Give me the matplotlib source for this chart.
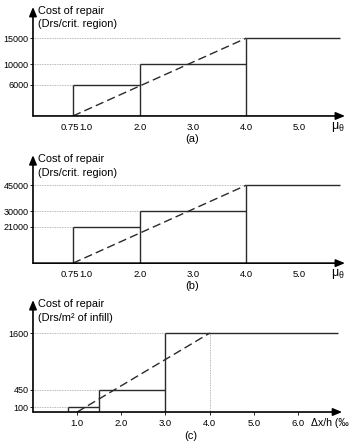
import numpy as np
import matplotlib.pyplot as plt
from matplotlib.transforms import ScaledTranslation

plt.rcParams['font.family'] = ['Liberation Sans', 'DejaVu Sans']

# panel (a)
a_edges = [0.75, 2.0, 4.0, 5.75]
a_costs = [6000, 10000, 15000]
a_dash = ([0.75, 4.0], [0, 15000])
a_xticks = [0.75, 1.0, 2.0, 3.0, 4.0, 5.0]
a_xticklabels = ['0.75', '1.0', '2.0', '3.0', '4.0', '5.0']

# panel (b)
b_edges = [0.75, 2.0, 4.0, 5.75]
b_costs = [21000, 30000, 45000]
b_dash = ([0.75, 4.0], [0, 45000])
b_xticks = [0.75, 1.0, 2.0, 3.0, 4.0, 5.0]
b_xticklabels = ['0.75', '1.0', '2.0', '3.0', '4.0', '5.0']

# panel (c)
c_edges = [0.8, 1.5, 3.0, 6.9]
c_costs = [100, 450, 1600]
c_dash = ([1.0, 4.0], [0, 1600])
c_xticks = [1.0, 2.0, 3.0, 4.0, 5.0, 6.0]
c_xticklabels = ['1.0', '2.0', '3.0', '4.0', '5.0', '6.0']

LINE = '#2a2a2a'
GRID = '#a0a0a0'


def plot_panel(fig, ax, edges, costs, dash, xticks, xticklabels, xmax, ymax,
               ylabel, xlabel, tag, xtick_marks=False, dash_drop=False,
               xlabel_x=0.955, xlabel_size=9):
    ax.set_xlim(0, xmax)
    ax.set_ylim(0, ymax)
    for s in ax.spines.values():
        s.set_visible(False)

    # axes with arrows
    arrow = dict(arrowstyle='-|>,head_length=0.6,head_width=0.25',
                 color='black', lw=1.2, shrinkA=0, shrinkB=0, mutation_scale=9)
    ax.annotate('', xy=(xmax, 0), xytext=(0, 0), arrowprops=arrow,
                annotation_clip=False)
    ax.annotate('', xy=(0, ymax), xytext=(0, 0), arrowprops=arrow,
                annotation_clip=False)

    # dotted guide lines to the y axis
    for x0, c in zip(edges, costs):
        ax.hlines(c, 0, x0, colors=GRID, linestyles=(0, (1, 1)), lw=0.6)
    if dash_drop:
        ax.vlines(dash[0][1], 0, dash[1][1], colors=GRID,
                  linestyles=(0, (1, 1)), lw=0.6)

    # step cost function
    for i, c in enumerate(costs):
        ax.vlines(edges[i], 0, c, colors=LINE, lw=1.0)
        ax.hlines(c, edges[i], edges[i + 1], colors=LINE, lw=1.0)

    # linear approximation
    ax.plot(dash[0], dash[1], color=LINE, lw=1.0, dashes=(6, 3))

    ax.set_yticks(costs)
    ax.set_yticklabels([str(c) for c in costs], fontsize=6.5)
    ax.set_xticks(xticks)
    ax.set_xticklabels(xticklabels, fontsize=6.8)
    ax.tick_params(axis='y', length=2, width=0.6, pad=1)
    ax.tick_params(axis='x', length=2 if xtick_marks else 0, width=0.6,
                   pad=3 if xtick_marks else 5)
    for lab in ax.get_xticklabels():
        if lab.get_text() == '0.75':
            lab.set_transform(lab.get_transform() +
                              ScaledTranslation(-3 / 100, 0, fig.dpi_scale_trans))

    ax.text(0.015, 1.01, ylabel, transform=ax.transAxes, fontsize=7.9,
            va='top', ha='left', linespacing=1.45)
    ax.text(xlabel_x, -0.1, xlabel, transform=ax.transAxes, fontsize=xlabel_size,
            va='center', ha='left')
    ax.text(0.51, -0.21, tag, transform=ax.transAxes, fontsize=8,
            va='center', ha='center')


fig = plt.figure(figsize=(3.57, 4.46), dpi=100)
ax_a = fig.add_axes([0.0924, 0.740, 0.874, 0.2444])
ax_b = fig.add_axes([0.0924, 0.410, 0.874, 0.242])
ax_c = fig.add_axes([0.0924, 0.0762, 0.866, 0.251])

plot_panel(fig, ax_a, a_edges, a_costs, a_dash, a_xticks, a_xticklabels, 5.85, 21000,
           'Cost of repair\n(Drs/crit. region)', r'$\mathregular{\mu_\theta}$', '(a)')
plot_panel(fig, ax_b, b_edges, b_costs, b_dash, b_xticks, b_xticklabels, 5.85, 62300,
           'Cost of repair\n(Drs/crit. region)', r'$\mathregular{\mu_\theta}$', '(b)')
plot_panel(fig, ax_c, c_edges, c_costs, c_dash, c_xticks, c_xticklabels, 7.0, 2270,
           'Cost of repair\n(Drs/m² of infill)', 'Δx/h (‰', '(c)',
           xtick_marks=True, dash_drop=True, xlabel_x=0.9, xlabel_size=7.6)

fig.savefig('out.png', dpi=100)
